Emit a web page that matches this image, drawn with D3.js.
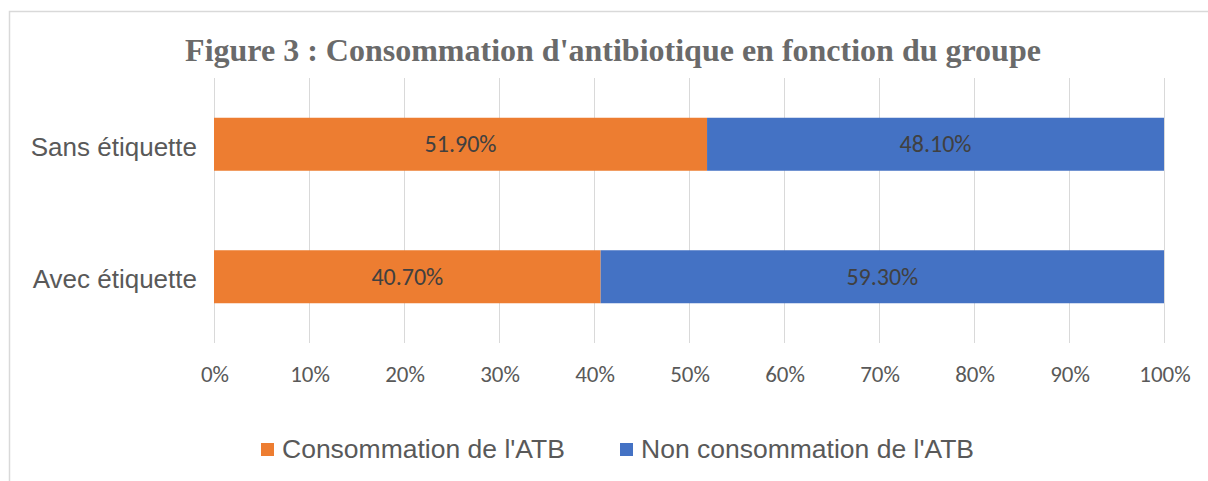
<!DOCTYPE html>
<html>
<head>
<meta charset="utf-8">
<script src="https://cdn.jsdelivr.net/npm/d3@7"></script>
<style>
  body { margin: 0; background: #fff; }
</style>
</head>
<body>
<svg id="chart" width="1208" height="481"></svg>
<script>
const groups = ["Sans étiquette", "Avec étiquette"];
const consommation = [51.9, 40.7];
const nonConsommation = [48.1, 59.3];
const seriesNames = ["Consommation de l'ATB", "Non consommation de l'ATB"];
const seriesColors = ["#ED7D31", "#4472C4"];
const xTicks = [0, 10, 20, 30, 40, 50, 60, 70, 80, 90, 100];
const title = "Figure 3 : Consommation d'antibiotique en fonction du groupe";

document.addEventListener("DOMContentLoaded", function() {
    const svg = d3.select("#chart");
    const plot = { left: 214, right: 1164, top: 78, bottom: 343 };

    // chart area border (runs off the right and bottom of the picture)
    svg.append("rect")
        .attr("x", 9.5).attr("y", 11.5)
        .attr("width", 1400).attr("height", 600)
        .attr("fill", "none")
        .attr("stroke", "#d9d9d9")
        .attr("stroke-width", 1.5);

    svg.append("text")
        .attr("x", 613).attr("y", 61)
        .attr("text-anchor", "middle")
        .style("font-family", "'Liberation Serif', 'Times New Roman', serif")
        .style("font-weight", "bold")
        .style("font-size", "32px")
        .style("fill", "#6a6a6a")
        .text(title);

    const x = d3.scaleLinear().domain([0, 100]).range([plot.left, plot.right]);
    const y = d3.scaleBand().domain(groups)
        .range([plot.top, plot.bottom])
        .paddingInner(0.6).paddingOuter(0.3);

    // gridlines
    svg.append("g").selectAll("line")
        .data(xTicks)
        .enter().append("line")
        .attr("x1", d => x(d) + 0.5).attr("x2", d => x(d) + 0.5)
        .attr("y1", plot.top).attr("y2", plot.bottom)
        .style("stroke", "#d9d9d9")
        .style("stroke-width", 1);

    // stacked bars
    const rows = groups.map((g, i) => ({ group: g, values: [consommation[i], nonConsommation[i]] }));
    rows.forEach(row => {
        let start = 0;
        row.values.forEach((v, s) => {
            svg.append("rect")
                .attr("x", x(start))
                .attr("y", y(row.group))
                .attr("width", x(start + v) - x(start))
                .attr("height", y.bandwidth())
                .style("fill", seriesColors[s]);
            svg.append("text")
                .attr("x", x(start + v / 2))
                .attr("y", y(row.group) + y.bandwidth() / 2)
                .attr("dy", "0.33em")
                .attr("text-anchor", "middle")
                .style("font-family", "Calibri, Carlito, 'Open Sans', sans-serif")
                .style("font-size", "24px")
                .style("fill", "#404040")
                .text(v.toFixed(2) + "%");
            start += v;
        });
    });

    // x axis labels
    const xAxis = d3.axisBottom(x)
        .tickValues(xTicks)
        .tickSize(0)
        .tickPadding(0)
        .tickFormat(d => d + "%");
    const gx = svg.append("g")
        .attr("transform", `translate(0.5, ${plot.bottom + 23})`)
        .call(xAxis);
    gx.select(".domain").remove();
    gx.selectAll("text")
        .style("font-family", "Calibri, Carlito, 'Open Sans', sans-serif")
        .style("font-size", "23px")
        .style("fill", "#595959");

    // category labels
    const yAxis = d3.axisLeft(y).tickSize(0).tickPadding(17);
    const gy = svg.append("g")
        .attr("transform", `translate(${plot.left}, 3)`)
        .call(yAxis);
    gy.select(".domain").remove();
    gy.selectAll("text")
        .style("font-family", "'Liberation Sans', Arial, sans-serif")
        .style("font-size", "26px")
        .style("fill", "#595959");

    // legend
    const legendX = [261, 620];
    const legend = svg.append("g");
    seriesNames.forEach((name, i) => {
        legend.append("rect")
            .attr("x", legendX[i]).attr("y", 443)
            .attr("width", 13).attr("height", 13)
            .style("fill", seriesColors[i]);
        legend.append("text")
            .attr("x", legendX[i] + 21).attr("y", 458)
            .style("font-family", "'Liberation Sans', Arial, sans-serif")
            .style("font-size", "26.5px")
            .style("fill", "#595959")
            .text(name);
    });
});
</script>
</body>
</html>
